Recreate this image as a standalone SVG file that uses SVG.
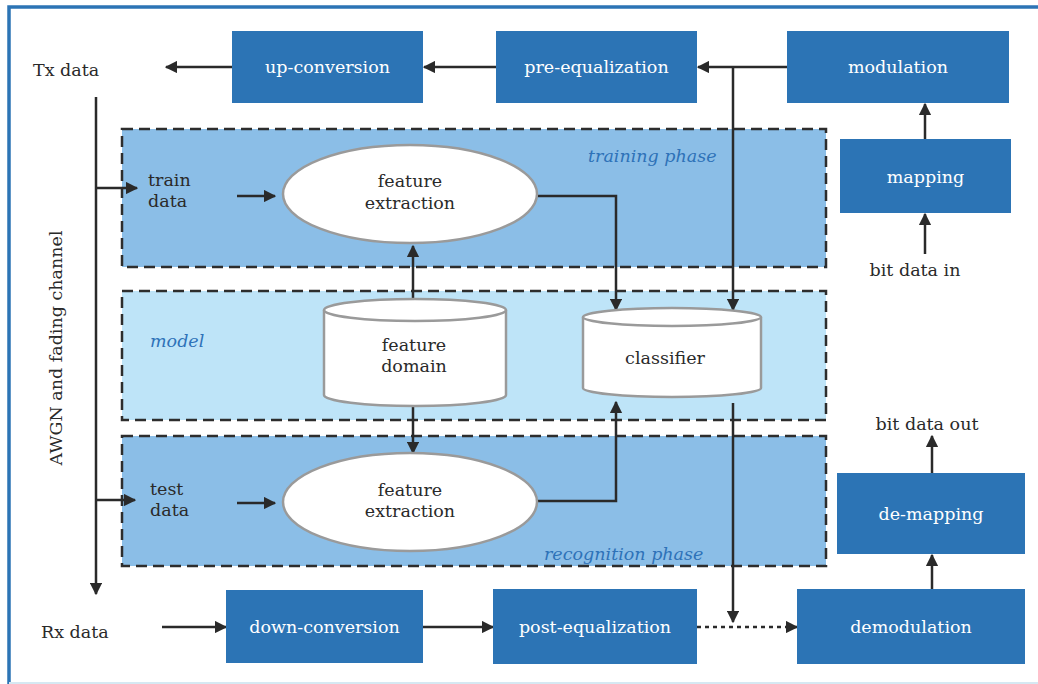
<svg xmlns="http://www.w3.org/2000/svg" width="1038" height="684" viewBox="0 0 1038 684">
<defs>
<marker id="ah" viewBox="0 0 10 10" refX="9" refY="5" markerWidth="5" markerHeight="5" orient="auto" markerUnits="strokeWidth">
<path d="M0,0 L10,5 L0,10 Z" fill="#2a2a2a"/>
</marker>
<style>
.box{fill:#2C74B5;}
.bt{font-family:"DejaVu Serif","Liberation Serif",serif;font-size:17.5px;fill:#ffffff;text-anchor:middle;}
.t{font-family:"DejaVu Serif","Liberation Serif",serif;font-size:17.5px;fill:#2a2a2a;}
.tc{text-anchor:middle;}
.it{font-family:"DejaVu Serif","Liberation Serif",serif;font-style:italic;font-size:17.5px;fill:#2E72B8;}
.zone{stroke:#2d2d2d;stroke-width:2.5;stroke-dasharray:11 6;}
.ell{fill:#ffffff;stroke:#9a9a9a;stroke-width:2.5;}
.arr{fill:none;stroke:#2a2a2a;stroke-width:2.5;marker-end:url(#ah);}
</style>
</defs>
<rect width="1038" height="684" fill="#ffffff"/>
<!-- frame -->
<path d="M9,684 L9,7 L1038,7" fill="none" stroke="#2C74B5" stroke-width="3.5"/>
<line x1="9" y1="683" x2="1038" y2="683" stroke="#D6E8F2" stroke-width="2"/>

<!-- zones -->
<g id="training-zone">
<rect class="zone" x="122" y="129" width="704" height="138" fill="#8BBEE7"/>
<text class="it" x="588" y="162">training phase</text>
</g>
<g id="model-zone">
<rect class="zone" x="122" y="291" width="704" height="129" fill="#BEE4F8"/>
<text class="it" x="150" y="347">model</text>
</g>
<g id="recognition-zone">
<rect class="zone" x="122" y="436" width="704" height="130" fill="#8BBEE7"/>
<text class="it" x="544" y="560">recognition phase</text>
</g>

<!-- connectors -->
<g id="connectors">
<line class="arr" x1="787" y1="67" x2="698" y2="67"/>
<line class="arr" x1="496" y1="67" x2="424" y2="67"/>
<line class="arr" x1="232" y1="67" x2="166" y2="67"/>
<polyline class="arr" points="733,67 733,310"/>
<polyline class="arr" points="538,196 616,196 616,310"/>
<line class="arr" x1="413" y1="310" x2="413" y2="246"/>
<line class="arr" x1="413" y1="406" x2="413" y2="453"/>
<polyline class="arr" points="538,501 616,501 616,402"/>
<line class="arr" x1="733" y1="403" x2="733" y2="622"/>
<line class="arr" x1="697" y1="627" x2="797" y2="627" stroke-dasharray="4 4"/>
<line class="arr" x1="423" y1="627" x2="493" y2="627"/>
<line class="arr" x1="162" y1="627" x2="226" y2="627"/>
<line class="arr" x1="96" y1="97" x2="96" y2="594"/>
<line class="arr" x1="96" y1="188" x2="137" y2="188"/>
<line class="arr" x1="96" y1="500" x2="135" y2="500"/>
<line class="arr" x1="237" y1="196" x2="275" y2="196"/>
<line class="arr" x1="237" y1="503" x2="275" y2="503"/>
<line class="arr" x1="925" y1="139" x2="925" y2="104"/>
<line class="arr" x1="925" y1="254" x2="925" y2="214"/>
<line class="arr" x1="932" y1="589" x2="932" y2="555"/>
<line class="arr" x1="932" y1="473" x2="932" y2="436"/>
</g>

<!-- blue boxes -->
<g id="up-conversion"><rect class="box" x="232" y="31" width="191" height="72"/><text class="bt" x="327.5" y="73">up-conversion</text></g>
<g id="pre-equalization"><rect class="box" x="496" y="31" width="201" height="72"/><text class="bt" x="596.5" y="73">pre-equalization</text></g>
<g id="modulation"><rect class="box" x="787" y="31" width="222" height="72"/><text class="bt" x="898" y="73">modulation</text></g>
<g id="mapping"><rect class="box" x="840" y="139" width="171" height="74"/><text class="bt" x="925.5" y="183">mapping</text></g>
<g id="de-mapping"><rect class="box" x="837" y="473" width="188" height="81"/><text class="bt" x="931" y="520">de-mapping</text></g>
<g id="demodulation"><rect class="box" x="797" y="589" width="228" height="75"/><text class="bt" x="911" y="633">demodulation</text></g>
<g id="post-equalization"><rect class="box" x="493" y="589" width="204" height="75"/><text class="bt" x="595" y="633">post-equalization</text></g>
<g id="down-conversion"><rect class="box" x="226" y="590" width="197" height="73"/><text class="bt" x="324.5" y="633">down-conversion</text></g>

<!-- ellipses -->
<g id="feature-extraction-train">
<ellipse class="ell" cx="410" cy="194" rx="127" ry="49"/>
<text class="t tc" x="410" y="187">feature</text>
<text class="t tc" x="410" y="209">extraction</text>
</g>
<g id="feature-extraction-test">
<ellipse class="ell" cx="410" cy="502" rx="127" ry="49"/>
<text class="t tc" x="410" y="496">feature</text>
<text class="t tc" x="410" y="517">extraction</text>
</g>

<!-- cylinders -->
<g id="feature-domain">
<path class="ell" d="M324,310 L324,395 A91,11 0 0 0 506,395 L506,310"/>
<ellipse class="ell" cx="415" cy="310" rx="91" ry="11"/>
<text class="t tc" x="414" y="351">feature</text>
<text class="t tc" x="414" y="372">domain</text>
</g>
<g id="classifier">
<path class="ell" d="M583,317 L583,388 A89,9 0 0 0 761,388 L761,317"/>
<ellipse class="ell" cx="672" cy="317" rx="89" ry="9"/>
<text class="t tc" x="665" y="364">classifier</text>
</g>

<!-- labels -->
<g id="labels">
<text class="t" x="33" y="76">Tx data</text>
<text class="t" x="41" y="638">Rx data</text>
<text class="t" x="148" y="186">train</text>
<text class="t" x="148" y="207">data</text>
<text class="t" x="150" y="495">test</text>
<text class="t" x="150" y="516">data</text>
<text class="t tc" x="915" y="276">bit data in</text>
<text class="t tc" x="927" y="430">bit data out</text>
<text class="t tc" transform="translate(62,348) rotate(-90)">AWGN and fading channel</text>
</g>
</svg>
